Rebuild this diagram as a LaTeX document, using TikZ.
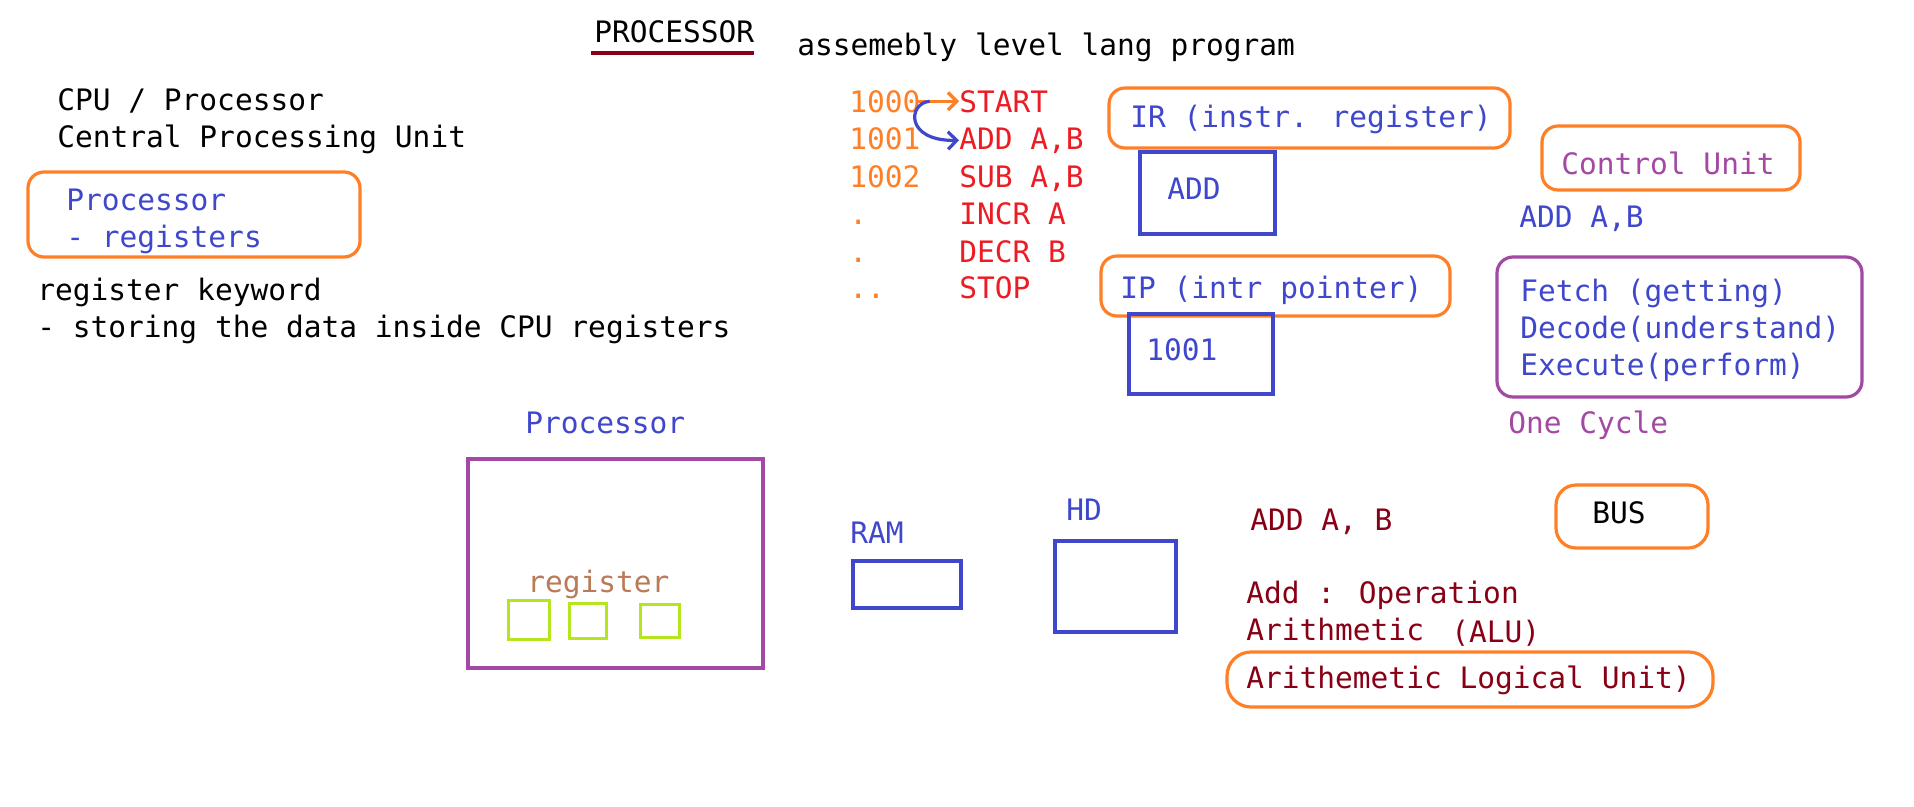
\documentclass[tikz,border=0pt]{standalone}
\usepackage{fontspec}
\usepackage{xcolor}
\usepackage{tikz}
\usetikzlibrary{arrows.meta}
\setmainfont{DejaVu Sans Mono}

\definecolor{paintorange}{HTML}{FF7F27}
\definecolor{paintblue}{HTML}{3F48CC}
\definecolor{paintpurple}{HTML}{A349A4}
\definecolor{paintred}{HTML}{ED1C24}
\definecolor{paintmaroon}{HTML}{880015}
\definecolor{paintlime}{HTML}{B5E61D}
\definecolor{paintbrown}{HTML}{B97A57}

\begin{document}
\begin{tikzpicture}[x=0.25mm, y=-0.25mm,
    txt/.style={anchor=base west, inner sep=0pt, font=\fontsize{21}{25}\selectfont},
    obox/.style={draw=paintorange, line width=0.8mm, rounded corners=4mm, inner sep=0pt},
    bbox/.style={draw=paintblue, line width=0.9mm, inner sep=0pt},
    pbox/.style={draw=paintpurple, line width=0.8mm, inner sep=0pt},
    regbox/.style={draw=paintlime, line width=0.75mm, inner sep=0pt},
    arrow/.style={->, >={Straight Barb[length=2.2mm, width=4.4mm]}, line width=0.8mm}]
    \fill[white] (0,0) rectangle (1914,806);
    \useasboundingbox (0,0) rectangle (1914,806);

    % Title
    \node[txt] (title) at (594,42) {PROCESSOR};
    \draw[paintmaroon, line width=1mm] (591,53) -- (754,53);
    \node[txt] (asm) at (797,55) {assemebly level lang program};

    % Notes on the left
    \node[txt] (cpu) at (57,110) {CPU / Processor};
    \node[txt] (cpulong) at (57,147) {Central Processing Unit};
    \node[obox, minimum width=83mm, minimum height=21.25mm] (procbox) at (194,214.5) {};
    \node[txt, text=paintblue] (proc) at (66,210) {Processor};
    \node[txt, text=paintblue] (regs) at (66,247) {- registers};
    \node[txt] (regkey) at (37,300) {register keyword};
    \node[txt] (regstore) at (37,337) {- storing the data inside CPU registers};

    % Code listing
    \node[txt, text=paintorange] (a1000) at (849,112) {1000};
    \node[txt, text=paintorange] (a1001) at (849,149) {1001};
    \node[txt, text=paintorange] (a1002) at (849,187) {1002};
    \node[txt, text=paintorange] (adot1) at (849,224) {.};
    \node[txt, text=paintorange] (adot2) at (849,262) {.};
    \node[txt, text=paintorange] (adot3) at (849,298) {..};
    \node[txt, text=paintred] (start) at (959,112) {START};
    \node[txt, text=paintred] (addab) at (959,149) {ADD A,B};
    \node[txt, text=paintred] (subab) at (959,187) {SUB A,B};
    \node[txt, text=paintred] (incra) at (959,224) {INCR A};
    \node[txt, text=paintred] (decrb) at (959,262) {DECR B};
    \node[txt, text=paintred] (stop) at (959,298) {STOP};
    \draw[arrow, paintorange] ([xshift=-1mm]a1000.east) -- (start.west);
    \draw[arrow, paintblue] ([xshift=2.25mm]a1000.east) .. controls +(-22,2) and +(-54,1) .. (addab.west);

    % Instruction register and pointer
    \node[obox, minimum width=100.25mm, minimum height=15mm] (irbox) at (1309.5,118) {};
    \node[txt, text=paintblue] (ir) at (1130,127) {IR (instr. register)};
    \node[bbox, minimum width=33.75mm, minimum height=20.5mm] (irval) at (1207.5,193) {};
    \node[txt, text=paintblue] (irvaltext) at (1167,199) {ADD};
    \node[obox, minimum width=87.25mm, minimum height=15mm] (ipbox) at (1275.5,286) {};
    \node[txt, text=paintblue] (ip) at (1120,298) {IP (intr pointer)};
    \node[bbox, minimum width=36mm, minimum height=20mm] (ipval) at (1201,354) {};
    \node[txt, text=paintblue] (ipvaltext) at (1146,360) {1001};

    % Control unit
    \node[obox, minimum width=64.5mm, minimum height=16mm] (cubox) at (1671,158) {};
    \node[txt, text=paintpurple] (cu) at (1561,174) {Control Unit};
    \node[txt, text=paintblue] (cuinstr) at (1519,227) {ADD A,B};
    \node[pbox, rounded corners=4mm, minimum width=91.25mm, minimum height=35mm] (cyclebox) at (1679.5,327) {};
    \node[txt, text=paintblue] (fetch) at (1520,301) {Fetch (getting)};
    \node[txt, text=paintblue] (decode) at (1520,338) {Decode(understand)};
    \node[txt, text=paintblue] (execute) at (1520,375) {Execute(perform)};
    \node[txt, text=paintpurple] (cycle) at (1508,433) {One Cycle};

    % Processor with registers, RAM, HD
    \node[txt, text=paintblue] (cpulabel) at (525,433) {Processor};
    \node[pbox, minimum width=73.75mm, minimum height=52.25mm] (cpubox) at (615.5,563.5) {};
    \node[txt, text=paintbrown] (reglabel) at (527,592) {register};
    \node[regbox, minimum width=10.25mm, minimum height=9.75mm] (reg1) at (528.5,619.5) {};
    \node[regbox, minimum width=9.25mm, minimum height=8.75mm] (reg2) at (587.5,620.5) {};
    \node[regbox, minimum width=9.75mm, minimum height=8.25mm] (reg3) at (659.5,620.5) {};
    \node[txt, text=paintblue] (ramlabel) at (850,543) {RAM};
    \node[bbox, minimum width=27mm, minimum height=11.75mm] (rambox) at (907,584.5) {};
    \node[txt, text=paintblue] (hdlabel) at (1066,520) {HD};
    \node[bbox, minimum width=30.25mm, minimum height=22.75mm] (hdbox) at (1115.5,586.5) {};

    % ALU and bus
    \node[txt, text=paintmaroon] (aluinstr) at (1250,530) {ADD A, B};
    \node[obox, rounded corners=5mm, minimum width=38mm, minimum height=15.75mm] (busbox) at (1632,516.5) {};
    \node[txt] (bus) at (1592,523) {BUS};
    \node[txt, text=paintmaroon] (op) at (1246,603) {Add : Operation};
    \node[txt, text=paintmaroon] (arith) at (1246,640) {Arithmetic};
    \node[txt, text=paintmaroon] (alu) at (1451,642) {(ALU)};
    \node[obox, rounded corners=6mm, minimum width=121.5mm, minimum height=13.75mm] (alubox) at (1470,679.5) {};
    \node[txt, text=paintmaroon] (alulong) at (1246,688) {Arithemetic Logical Unit)};
\end{tikzpicture}
\end{document}
